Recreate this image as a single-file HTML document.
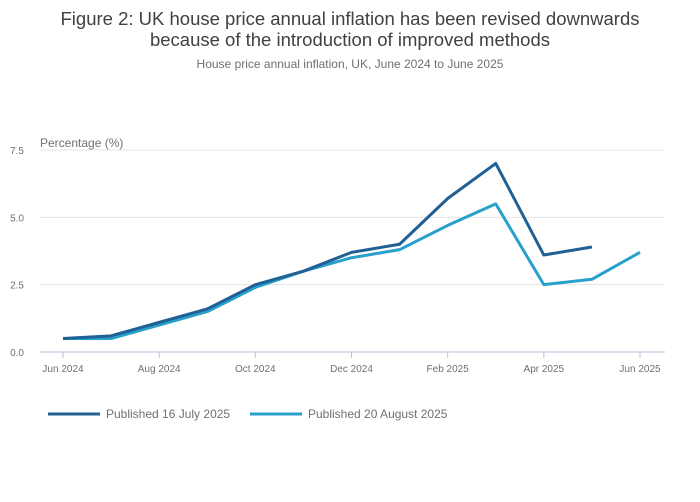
<!DOCTYPE html>
<html><head><meta charset="utf-8"><style>
body{margin:0;background:#fff;font-family:"Liberation Sans",sans-serif;}
#wrap{position:relative;width:700px;height:502px;overflow:hidden}
.title{position:absolute;left:0;width:700px;text-align:center;color:#414042;font-size:18.5px;line-height:21px;top:8px}
.sub{position:absolute;left:0;width:700px;text-align:center;color:#707071;font-size:12px;top:57px}
</style></head><body>
<div id="wrap">
<div class="title">Figure 2: UK house price annual inflation has been revised downwards<br>because of the introduction of improved methods</div>
<div class="sub">House price annual inflation, UK, June 2024 to June 2025</div>
<svg id="svg" width="700" height="502" style="position:absolute;left:0;top:0"></svg>
</div>
<script>
const months=["Jun 2024","Jul 2024","Aug 2024","Sep 2024","Oct 2024","Nov 2024","Dec 2024","Jan 2025","Feb 2025","Mar 2025","Apr 2025","May 2025","Jun 2025"];
const julySeries=[0.5,0.6,1.1,1.6,2.5,3.0,3.7,4.0,5.7,7.0,3.6,3.9,null];
const augSeries=[0.5,0.5,1.0,1.5,2.4,3.0,3.5,3.8,4.7,5.5,2.5,2.7,3.7];
const yTicks=[0,2.5,5,7.5];
const yTickLabels=["0.0","2.5","5.0","7.5"];
const NS="http://www.w3.org/2000/svg";
const svg=document.getElementById('svg');
const x=i=>63+i*(640-63)/12;
const y=v=>352-v*(202/7.5);
function mk(t,a,p){const e=document.createElementNS(NS,t);for(const k in a)e.setAttribute(k,a[k]);(p||svg).appendChild(e);return e;}
yTicks.forEach((v,i)=>{
  const g=mk('line',{x1:40,x2:665,y1:y(v),y2:y(v),stroke:v===0?'#b3c6d9':'#e4e4e4','stroke-width':1});
  
  
  const t=mk('text',{x:24,y:y(v)+4,'text-anchor':'end','font-size':10,fill:'#707071'});
  t.textContent=yTickLabels[i];
  
  
});
const yt=mk('text',{x:40,y:147,'font-size':12,fill:'#707071'});yt.textContent='Percentage (%)';


months.forEach((m,i)=>{
  if(i%2)return;
  const tk=mk('line',{x1:x(i),x2:x(i),y1:352,y2:358,stroke:'#b3c6d9'});
  
  
  const t=mk('text',{x:x(i),y:372,'text-anchor':'middle','font-size':10,fill:'#707071'});
  t.textContent=m;
  
  
});
function line(data,col,name){
  let d='';data.forEach((v,i)=>{if(v==null)return;d+=(d?'L':'M')+x(i)+','+y(v);});
  const p=mk('path',{d:d,fill:'none',stroke:col,'stroke-width':3,'stroke-linejoin':'round'});
  
  
}
line(augSeries,'#27a0cc','series-published-20-august');
line(julySeries,'#206095','series-published-16-july');
[[48,'#206095','Published 16 July 2025'],[250,'#27a0cc','Published 20 August 2025']].forEach(l=>{
  const s=mk('line',{x1:l[0],x2:l[0]+52,y1:414,y2:414,stroke:l[1],'stroke-width':3});
  
  
  const t=mk('text',{x:l[0]+58,y:418,'font-size':12,fill:'#707071'});t.textContent=l[2];
  
  
});
</script>
</body></html>
